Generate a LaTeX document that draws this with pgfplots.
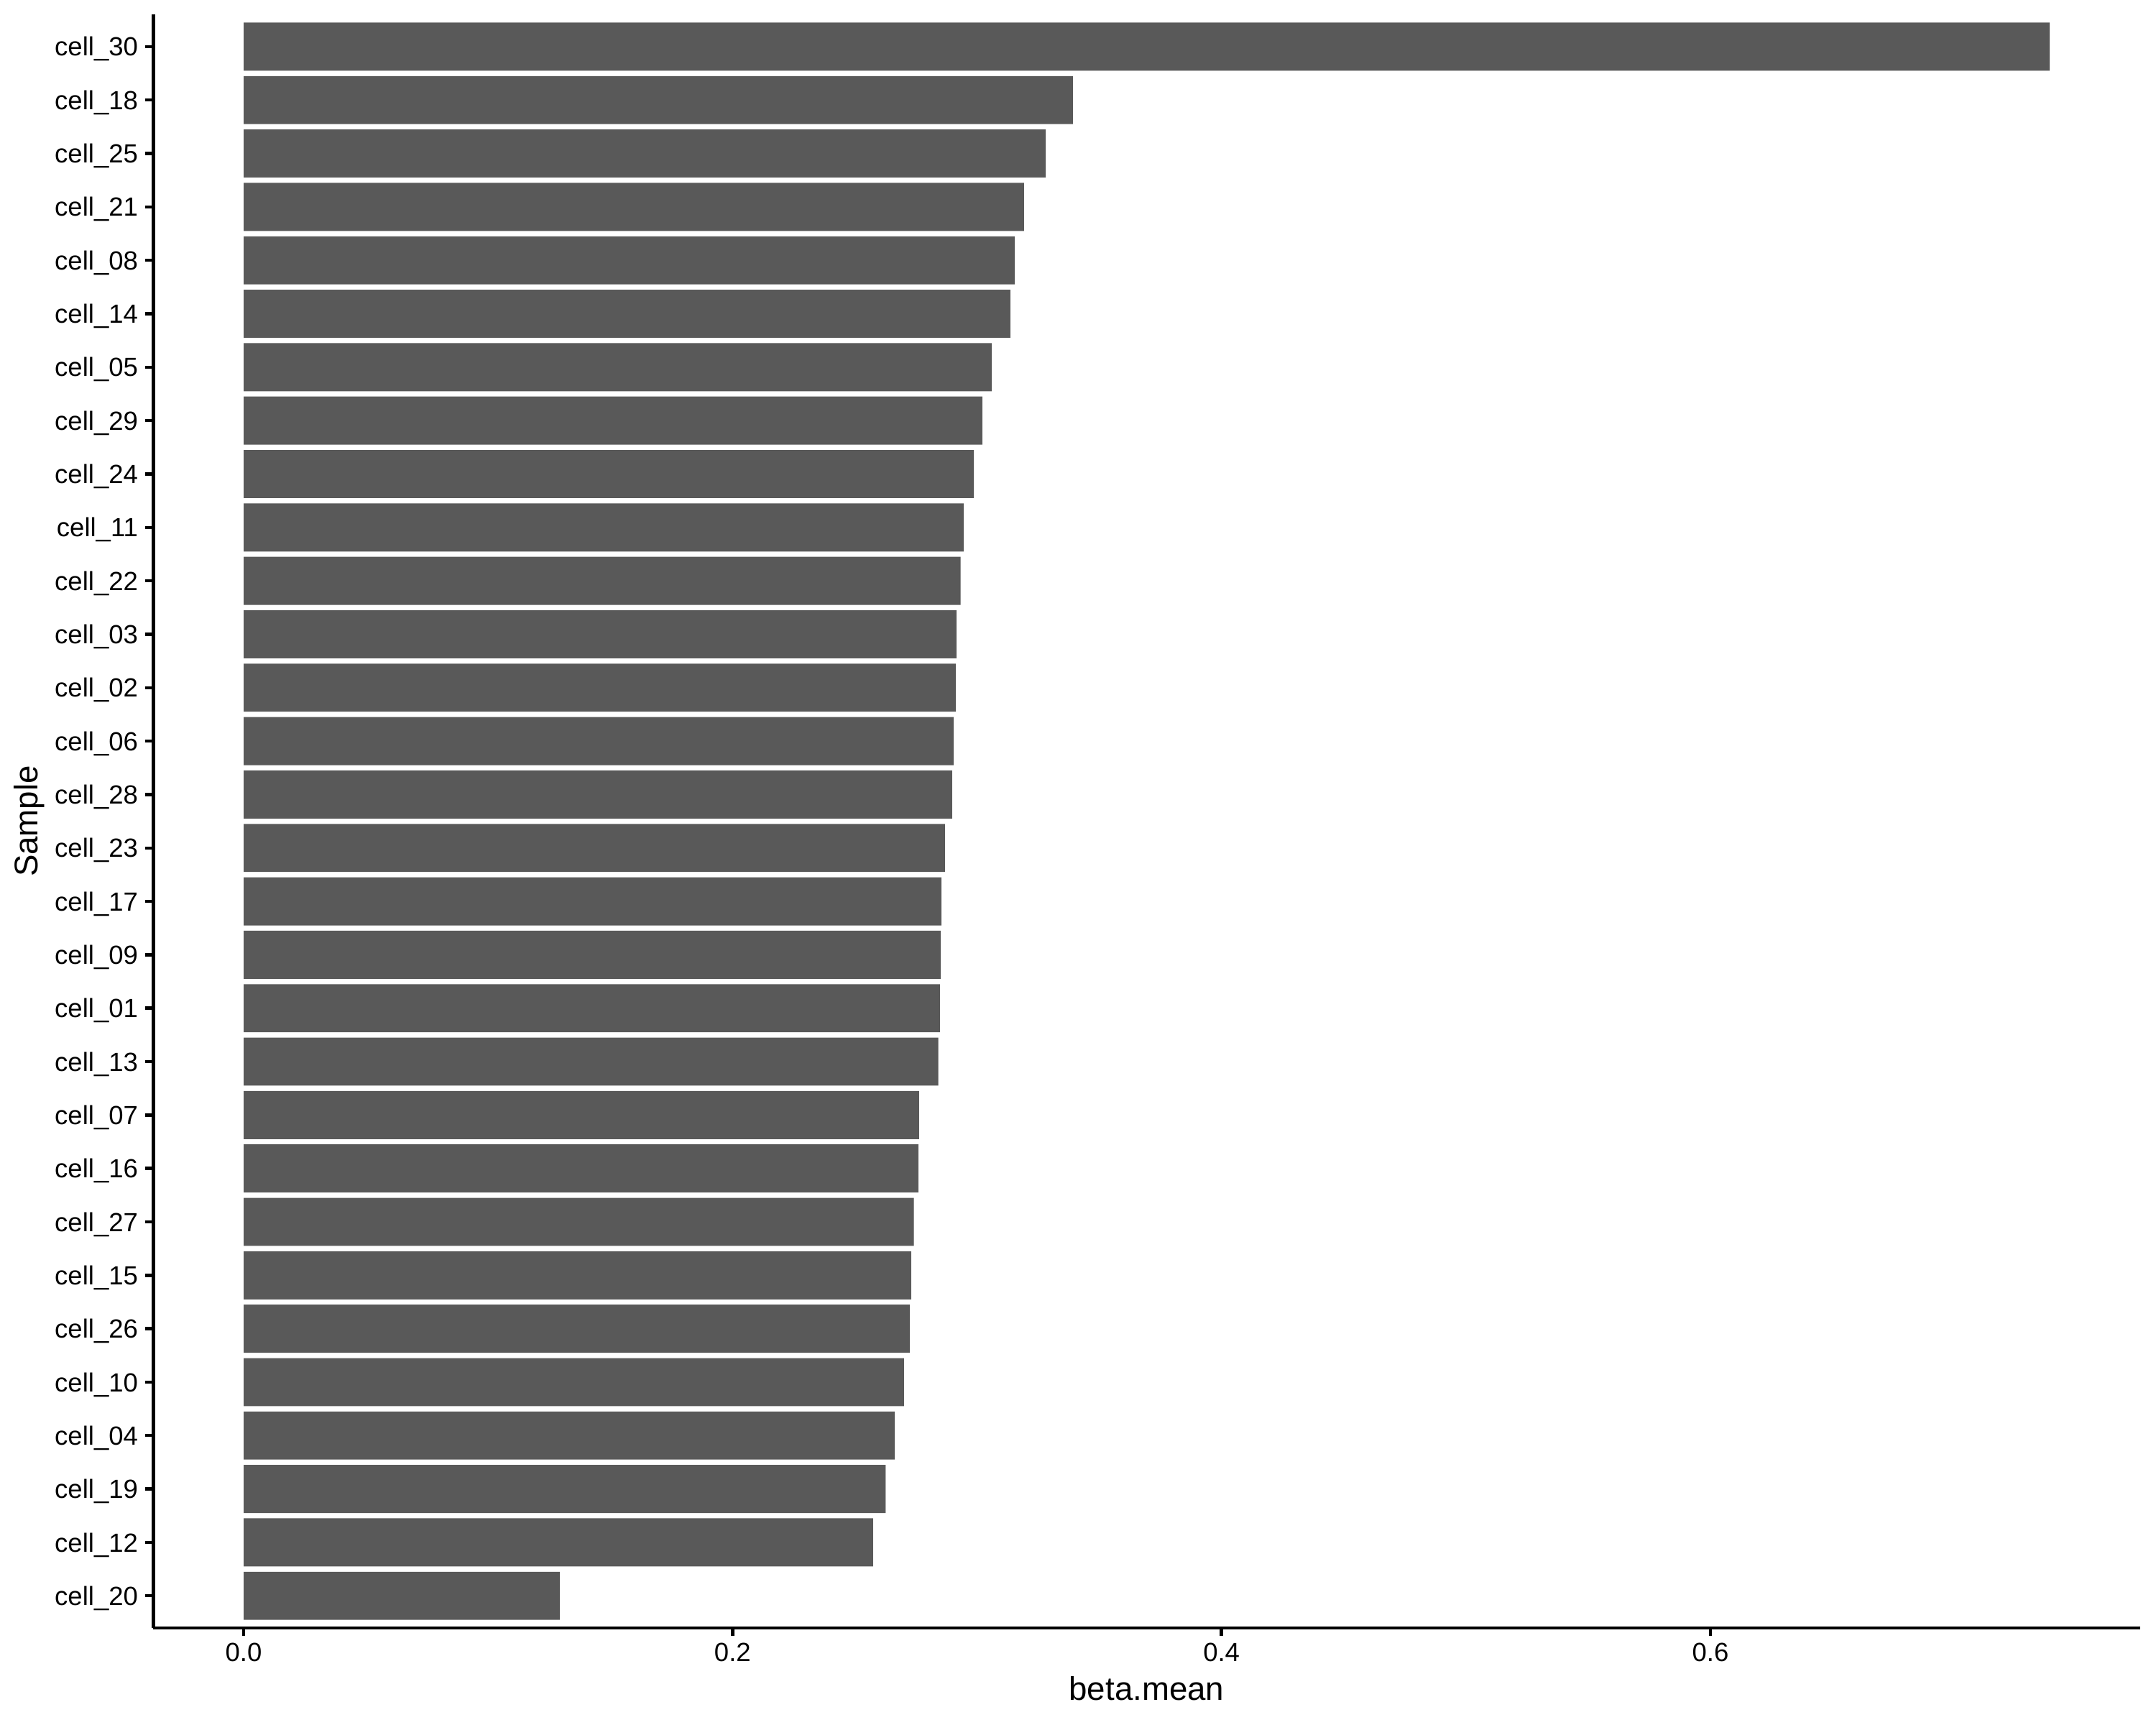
\documentclass[border=0pt]{standalone}
\usepackage{pgfplots}
\pgfplotsset{compat=1.18}
\usepackage{pgfplotstable}
\usepackage{fontspec}
\setmainfont{Liberation Sans}
\definecolor{bargray}{HTML}{595959}
\pgfplotstableread{
y x
0 0.1293
1 0.2575
2 0.2626
3 0.2663
4 0.2701
5 0.2725
6 0.2731
7 0.2742
8 0.2760
9 0.2763
10 0.2842
11 0.2848
12 0.2851
13 0.2854
14 0.2869
15 0.2898
16 0.2904
17 0.2913
18 0.2916
19 0.2933
20 0.2945
21 0.2987
22 0.3022
23 0.3060
24 0.3136
25 0.3154
26 0.3192
27 0.3281
28 0.3392
29 0.7388
}\datatable
\begin{document}
\begin{tikzpicture}
\path[use as bounding box] (0,0) rectangle (722.7pt,578.16pt);
\begin{axis}[
  at={(51.4pt,32.56pt)}, anchor=south west,
  scale only axis, width=665.9pt, height=540.7pt,
  xmin=-0.03694, xmax=0.7757,
  ymin=-0.6, ymax=29.6,
  axis x line*=bottom, axis y line*=left,
  axis line style={line width=1.07pt, -},
  every tick/.style={line width=1.07pt, black},
  tick align=outside, major tick length=2.75pt,
  xtick={0,0.2,0.4,0.6}, xticklabels={0.0,0.2,0.4,0.6},
  ytick={0,...,29},
  yticklabels={cell\_20,cell\_12,cell\_19,cell\_04,cell\_10,cell\_26,cell\_15,cell\_27,cell\_16,cell\_07,cell\_13,cell\_01,cell\_09,cell\_17,cell\_23,cell\_28,cell\_06,cell\_02,cell\_03,cell\_22,cell\_11,cell\_24,cell\_29,cell\_05,cell\_14,cell\_08,cell\_21,cell\_25,cell\_18,cell\_30},
  ticklabel style={font=\fontsize{8.8}{10}\selectfont, black},
  yticklabel style={inner sep=0pt, anchor=base east, xshift=-2.2pt, yshift=-3.15pt},
  xticklabel style={inner sep=0pt, yshift=-2.2pt},
  xlabel={beta.mean}, ylabel={Sample},
  label style={font=\fontsize{11}{13}\selectfont},
  xlabel style={at={(axis description cs:0.5,0)}, anchor=center, yshift=-20.3pt},
  ylabel style={at={(axis description cs:-0.0623,0.5)}, anchor=center},
  xbar, bar width=0.9, bar shift=0pt,
]
\addplot[fill=bargray, draw=none] table[x=x, y=y] {\datatable};
\end{axis}
\end{tikzpicture}
\end{document}
